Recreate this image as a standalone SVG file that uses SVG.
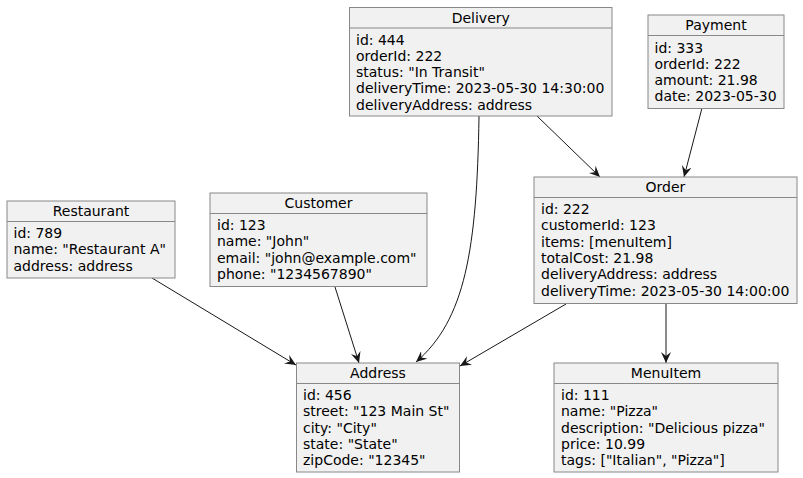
<svg xmlns="http://www.w3.org/2000/svg" width="803" height="478" viewBox="0 0 803 478">
<style>
.box{fill:#F1F1F1;stroke:#888888;stroke-width:1}
.sep{stroke:#888888;stroke-width:1}
text{font-family:"DejaVu Sans","Liberation Sans",sans-serif;font-size:14px;fill:#000}
.t{text-anchor:middle}
.e{fill:none;stroke:#181818;stroke-width:1}
</style>
<defs>
<marker id="ah" viewBox="0 0 12 10" refX="11" refY="5" markerWidth="12" markerHeight="10" markerUnits="userSpaceOnUse" orient="auto">
<path d="M11,5 L0,0 L4,5 L0,10 Z" fill="#181818"/>
</marker>
</defs>
<rect width="803" height="478" fill="#FFFFFF"/>
<g id="connectors">
<path class="e" d="M152,278 L296,365" marker-end="url(#ah)"/>
<path class="e" d="M335,287 L359,363" marker-end="url(#ah)"/>
<path class="e" d="M479,116 C477,250 465,320 416,362" marker-end="url(#ah)"/>
<path class="e" d="M537,116 L600,177" marker-end="url(#ah)"/>
<path class="e" d="M702,108 L684,177" marker-end="url(#ah)"/>
<path class="e" d="M566,304 L460,366" marker-end="url(#ah)"/>
<path class="e" d="M666,304 L666,363" marker-end="url(#ah)"/>
</g>
<g id="Delivery">
<rect class="box" x="349.5" y="7.5" width="262.5" height="108.5"/>
<line class="sep" x1="349.5" y1="28" x2="612" y2="28"/>
<text class="t" x="480.75" y="22.5">Delivery</text>
<text x="356" y="44.5">id: 444</text>
<text x="356" y="60.8">orderId: 222</text>
<text x="356" y="77.1">status: "In Transit"</text>
<text x="356" y="93.4">deliveryTime: 2023-05-30 14:30:00</text>
<text x="356" y="109.7">deliveryAddress: address</text>
</g>
<g id="Payment">
<rect class="box" x="648" y="15" width="136" height="93.5"/>
<line class="sep" x1="648" y1="35.5" x2="784" y2="35.5"/>
<text class="t" x="716" y="30">Payment</text>
<text x="654.5" y="52.5">id: 333</text>
<text x="654.5" y="68.8">orderId: 222</text>
<text x="654.5" y="85.1">amount: 21.98</text>
<text x="654.5" y="101.4">date: 2023-05-30</text>
</g>
<g id="Restaurant">
<rect class="box" x="7" y="201" width="168" height="77"/>
<line class="sep" x1="7" y1="221.5" x2="175" y2="221.5"/>
<text class="t" x="91" y="216">Restaurant</text>
<text x="13.5" y="238">id: 789</text>
<text x="13.5" y="254.3">name: "Restaurant A"</text>
<text x="13.5" y="270.6">address: address</text>
</g>
<g id="Customer">
<rect class="box" x="210" y="193" width="217" height="93.5"/>
<line class="sep" x1="210" y1="213.5" x2="427" y2="213.5"/>
<text class="t" x="318.5" y="208">Customer</text>
<text x="217" y="230">id: 123</text>
<text x="217" y="246.3">name: "John"</text>
<text x="217" y="262.6">email: "john@example.com"</text>
<text x="217" y="278.9">phone: "1234567890"</text>
</g>
<g id="Order">
<rect class="box" x="534" y="177" width="263" height="126.5"/>
<line class="sep" x1="534" y1="197.5" x2="797" y2="197.5"/>
<text class="t" x="665.5" y="192">Order</text>
<text x="541" y="214">id: 222</text>
<text x="541" y="230.3">customerId: 123</text>
<text x="541" y="246.6">items: [menuItem]</text>
<text x="541" y="262.9">totalCost: 21.98</text>
<text x="541" y="279.2">deliveryAddress: address</text>
<text x="541" y="295.5">deliveryTime: 2023-05-30 14:00:00</text>
</g>
<g id="Address">
<rect class="box" x="296.5" y="363" width="163" height="109"/>
<line class="sep" x1="296.5" y1="383.5" x2="459.5" y2="383.5"/>
<text class="t" x="378" y="378">Address</text>
<text x="303" y="400">id: 456</text>
<text x="303" y="416.3">street: "123 Main St"</text>
<text x="303" y="432.6">city: "City"</text>
<text x="303" y="448.9">state: "State"</text>
<text x="303" y="465.2">zipCode: "12345"</text>
</g>
<g id="MenuItem">
<rect class="box" x="554" y="363" width="224" height="109"/>
<line class="sep" x1="554" y1="383.5" x2="778" y2="383.5"/>
<text class="t" x="666" y="378">MenuItem</text>
<text x="561" y="400">id: 111</text>
<text x="561" y="416.3">name: "Pizza"</text>
<text x="561" y="432.6">description: "Delicious pizza"</text>
<text x="561" y="448.9">price: 10.99</text>
<text x="561" y="465.2">tags: ["Italian", "Pizza"]</text>
</g>
</svg>
